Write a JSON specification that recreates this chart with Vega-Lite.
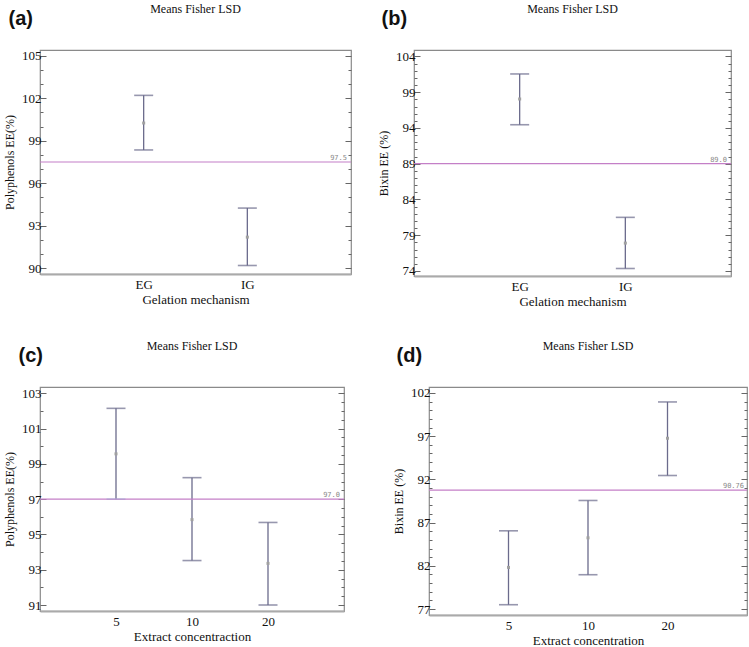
{
  "$schema": "https://vega.github.io/schema/vega-lite/v6.json",
  "background": "white",
  "padding": {"left": 2, "top": 2, "right": 0, "bottom": 0},
  "spacing": 30,
  "config": {
    "font": "Liberation Serif",
    "view": {"stroke": "#8a8a8a", "strokeWidth": 1.2},
    "axis": {"labelFont": "Liberation Serif", "titleFont": "Liberation Serif", "labelFontSize": 13, "titleFontSize": 13, "titleFontWeight": "normal", "labelColor": "#111", "titleColor": "#111", "grid": false, "domain": false, "tickColor": "#666", "minExtent": 0},
    "axisY": {"titleFontSize": 12, "minExtent": 0},
    "title": {"font": "Liberation Serif", "fontSize": 12, "fontWeight": "normal", "color": "#111", "anchor": "middle", "offset": -8}
  },
  "vconcat": [
    {
      "spacing": 23,
      "hconcat": [
        {
          "title": "Means Fisher LSD",
          "width": 311, "height": 224,
          "data": {"values": [
            {"group": "EG", "mean": 100.25, "lower": 98.35, "upper": 102.2},
            {"group": "IG", "mean": 92.2, "lower": 90.2, "upper": 94.25}
          ]},
          "layer": [
            {
              "mark": {"type": "rule", "color": "#6b6b8c", "strokeWidth": 1.3},
              "encoding": {
                "x": {"field": "group", "type": "ordinal", "scale": {"type": "point", "padding": 1}, "axis": {"orient": "bottom", "labelAngle": 0, "ticks": false, "domain": true, "domainColor": "#aaa", "domainWidth": 2, "labelPadding": 4, "titlePadding": 2, "title": "Gelation mechanism"}},
                "y": {"field": "lower", "type": "quantitative", "scale": {"domain": [89.6, 105.4], "nice": false, "zero": false}, "axis": {"orient": "left", "values": [90,91,92,93,94,95,96,97,98,99,100,101,102,103,104,105], "labelExpr": "datum.value % 3 === 0 ? datum.label : ''", "format": "d", "tickSize": {"condition": {"test": "datum.value % 3 === 0", "value": -6}, "value": -3}, "labelPadding": 5, "titlePadding": 5, "title": "Polyphenols EE(%)"}},
                "y2": {"field": "upper"}
              }
            },
            {
              "mark": {"type": "tick", "color": "#6b6b8c", "size": 19, "thickness": 1.6},
              "encoding": {
                "x": {"field": "group", "type": "ordinal", "axis": {"orient": "top", "labels": false, "ticks": false, "domain": false, "title": "(a)", "titleFont": "Liberation Sans", "titleFontSize": 20, "titleFontWeight": "bold", "titleAnchor": "start", "titleAlign": "left", "titleX": -32, "titleY": -26, "titleBaseline": "alphabetic"}},
                "y": {"field": "upper", "type": "quantitative", "axis": {"orient": "right", "values": [90,91,92,93,94,95,96,97,98,99,100,101,102,103,104,105], "labels": false, "title": null, "tickSize": {"condition": {"test": "datum.value % 3 === 0", "value": -6}, "value": -3}}}
              }
            },
            {
              "mark": {"type": "tick", "color": "#6b6b8c", "size": 19, "thickness": 1.6},
              "encoding": {
                "x": {"field": "group", "type": "ordinal", "axis": null},
                "y": {"field": "lower", "type": "quantitative", "axis": null}
              }
            },
            {
              "mark": {"type": "square", "color": "#a0a0a0", "size": 9, "opacity": 1},
              "encoding": {
                "x": {"field": "group", "type": "ordinal", "axis": null},
                "y": {"field": "mean", "type": "quantitative", "axis": null}
              }
            },
            {
              "data": {"values": [{"grand": 97.5, "label": "97.5"}]},
              "mark": {"type": "rule", "color": "#c47fc7", "strokeWidth": 1.2},
              "encoding": {"y": {"field": "grand", "type": "quantitative", "axis": null}}
            },
            {
              "data": {"values": [{"grand": 97.5, "label": "97.5"}]},
              "mark": {"type": "text", "x": "width", "align": "right", "dx": -4, "dy": -1, "baseline": "bottom", "font": "DejaVu Sans Mono", "fontSize": 7, "color": "#888"},
              "encoding": {"y": {"field": "grand", "type": "quantitative", "axis": null}, "text": {"field": "label"}}
            }
          ],
          "resolve": {"axis": {"x": "independent", "y": "independent"}}
        },
        {
          "title": "Means Fisher LSD",
          "width": 317, "height": 226,
          "data": {"values": [
            {"group": "EG", "mean": 98.05, "lower": 94.45, "upper": 101.55},
            {"group": "IG", "mean": 77.9, "lower": 74.35, "upper": 81.5}
          ]},
          "layer": [
            {
              "mark": {"type": "rule", "color": "#6b6b8c", "strokeWidth": 1.3},
              "encoding": {
                "x": {"field": "group", "type": "ordinal", "scale": {"type": "point", "padding": 1}, "axis": {"orient": "bottom", "labelAngle": 0, "ticks": false, "domain": true, "domainColor": "#aaa", "domainWidth": 2, "labelPadding": 4, "titlePadding": 2, "title": "Gelation mechanism"}},
                "y": {"field": "lower", "type": "quantitative", "scale": {"domain": [73.3, 104.9], "nice": false, "zero": false}, "axis": {"orient": "left", "values": [74,75,76,77,78,79,80,81,82,83,84,85,86,87,88,89,90,91,92,93,94,95,96,97,98,99,100,101,102,103,104], "labelExpr": "datum.value % 5 === 4 ? datum.label : ''", "format": "d", "tickSize": {"condition": {"test": "datum.value % 5 === 4", "value": -6}, "value": -3}, "labelPadding": 5, "titlePadding": 5, "title": "Bixin EE (%)"}},
                "y2": {"field": "upper"}
              }
            },
            {
              "mark": {"type": "tick", "color": "#6b6b8c", "size": 19, "thickness": 1.6},
              "encoding": {
                "x": {"field": "group", "type": "ordinal", "axis": {"orient": "top", "labels": false, "ticks": false, "domain": false, "title": "(b)", "titleFont": "Liberation Sans", "titleFontSize": 20, "titleFontWeight": "bold", "titleAnchor": "start", "titleAlign": "left", "titleX": -33, "titleY": -26, "titleBaseline": "alphabetic"}},
                "y": {"field": "upper", "type": "quantitative", "axis": {"orient": "right", "values": [74,75,76,77,78,79,80,81,82,83,84,85,86,87,88,89,90,91,92,93,94,95,96,97,98,99,100,101,102,103,104], "labels": false, "title": null, "tickSize": {"condition": {"test": "datum.value % 5 === 4", "value": -6}, "value": -3}}}
              }
            },
            {
              "mark": {"type": "tick", "color": "#6b6b8c", "size": 19, "thickness": 1.6},
              "encoding": {
                "x": {"field": "group", "type": "ordinal", "axis": null},
                "y": {"field": "lower", "type": "quantitative", "axis": null}
              }
            },
            {
              "mark": {"type": "square", "color": "#a0a0a0", "size": 9, "opacity": 1},
              "encoding": {
                "x": {"field": "group", "type": "ordinal", "axis": null},
                "y": {"field": "mean", "type": "quantitative", "axis": null}
              }
            },
            {
              "data": {"values": [{"grand": 89.0, "label": "89.0"}]},
              "mark": {"type": "rule", "color": "#c47fc7", "strokeWidth": 1.2},
              "encoding": {"y": {"field": "grand", "type": "quantitative", "axis": null}}
            },
            {
              "data": {"values": [{"grand": 89.0, "label": "89.0"}]},
              "mark": {"type": "text", "x": "width", "align": "right", "dx": -4, "dy": -1, "baseline": "bottom", "font": "DejaVu Sans Mono", "fontSize": 7, "color": "#888"},
              "encoding": {"y": {"field": "grand", "type": "quantitative", "axis": null}, "text": {"field": "label"}}
            }
          ],
          "resolve": {"axis": {"x": "independent", "y": "independent"}}
        }
      ]
    },
    {
      "spacing": 45,
      "hconcat": [
        {
          "title": "Means Fisher LSD",
          "width": 304, "height": 224,
          "data": {"values": [
            {"group": "5", "mean": 99.57, "lower": 97.0, "upper": 102.15},
            {"group": "10", "mean": 95.84, "lower": 93.52, "upper": 98.22},
            {"group": "20", "mean": 93.36, "lower": 91.0, "upper": 95.68}
          ]},
          "layer": [
            {
              "mark": {"type": "rule", "color": "#6b6b8c", "strokeWidth": 1.3},
              "encoding": {
                "x": {"field": "group", "type": "ordinal", "sort": null, "scale": {"type": "point", "padding": 1}, "axis": {"orient": "bottom", "labelAngle": 0, "ticks": false, "domain": true, "domainColor": "#aaa", "domainWidth": 2, "labelPadding": 4, "titlePadding": 2, "title": "Extract concentraction"}},
                "y": {"field": "lower", "type": "quantitative", "scale": {"domain": [90.66, 103.36], "nice": false, "zero": false}, "axis": {"orient": "left", "values": [91,91.5,92,92.5,93,93.5,94,94.5,95,95.5,96,96.5,97,97.5,98,98.5,99,99.5,100,100.5,101,101.5,102,102.5,103], "labelExpr": "datum.value % 2 === 1 ? datum.label : ''", "format": "d", "tickSize": {"condition": {"test": "datum.value % 2 === 1", "value": -6}, "value": -3}, "labelPadding": 5, "titlePadding": 5, "title": "Polyphenols EE(%)"}},
                "y2": {"field": "upper"}
              }
            },
            {
              "mark": {"type": "tick", "color": "#6b6b8c", "size": 19, "thickness": 1.6},
              "encoding": {
                "x": {"field": "group", "type": "ordinal", "sort": null, "axis": {"orient": "top", "labels": false, "ticks": false, "domain": false, "title": "(c)", "titleFont": "Liberation Sans", "titleFontSize": 20, "titleFontWeight": "bold", "titleAnchor": "start", "titleAlign": "left", "titleX": -22, "titleY": -26, "titleBaseline": "alphabetic"}},
                "y": {"field": "upper", "type": "quantitative", "axis": {"orient": "right", "values": [91,91.5,92,92.5,93,93.5,94,94.5,95,95.5,96,96.5,97,97.5,98,98.5,99,99.5,100,100.5,101,101.5,102,102.5,103], "labels": false, "title": null, "tickSize": {"condition": {"test": "datum.value % 2 === 1", "value": -6}, "value": -3}}}
              }
            },
            {
              "mark": {"type": "tick", "size": 19, "thickness": 1.6},
              "encoding": {
                "x": {"field": "group", "type": "ordinal", "sort": null, "axis": null},
                "y": {"field": "lower", "type": "quantitative", "axis": null},
                "color": {"condition": {"test": "datum.lower === 97", "value": "#7fe3e3"}, "value": "#6b6b8c"}
              }
            },
            {
              "mark": {"type": "square", "color": "#a0a0a0", "size": 9, "opacity": 1},
              "encoding": {
                "x": {"field": "group", "type": "ordinal", "sort": null, "axis": null},
                "y": {"field": "mean", "type": "quantitative", "axis": null}
              }
            },
            {
              "data": {"values": [{"grand": 97.0, "label": "97.0"}]},
              "mark": {"type": "rule", "color": "#c47fc7", "strokeWidth": 1.2},
              "encoding": {"y": {"field": "grand", "type": "quantitative", "axis": null}}
            },
            {
              "data": {"values": [{"grand": 97.0, "label": "97.0"}]},
              "mark": {"type": "text", "x": "width", "align": "right", "dx": -4, "dy": -1, "baseline": "bottom", "font": "DejaVu Sans Mono", "fontSize": 7, "color": "#888"},
              "encoding": {"y": {"field": "grand", "type": "quantitative", "axis": null}, "text": {"field": "label"}}
            }
          ],
          "resolve": {"axis": {"x": "independent", "y": "independent"}}
        },
        {
          "title": "Means Fisher LSD",
          "width": 318, "height": 228,
          "data": {"values": [
            {"group": "5", "mean": 81.82, "lower": 77.5, "upper": 86.05},
            {"group": "10", "mean": 85.24, "lower": 80.97, "upper": 89.56},
            {"group": "20", "mean": 96.76, "lower": 92.45, "upper": 100.96}
          ]},
          "layer": [
            {
              "mark": {"type": "rule", "color": "#6b6b8c", "strokeWidth": 1.3},
              "encoding": {
                "x": {"field": "group", "type": "ordinal", "sort": null, "scale": {"type": "point", "padding": 1}, "axis": {"orient": "bottom", "labelAngle": 0, "ticks": false, "domain": true, "domainColor": "#aaa", "domainWidth": 2, "labelPadding": 4, "titlePadding": 2, "title": "Extract concentration"}},
                "y": {"field": "lower", "type": "quantitative", "scale": {"domain": [76.31, 102.69], "nice": false, "zero": false}, "axis": {"orient": "left", "values": [77,78,79,80,81,82,83,84,85,86,87,88,89,90,91,92,93,94,95,96,97,98,99,100,101,102], "labelExpr": "datum.value % 5 === 2 ? datum.label : ''", "format": "d", "tickSize": {"condition": {"test": "datum.value % 5 === 2", "value": -6}, "value": -3}, "labelPadding": 5, "titlePadding": 5, "title": "Bixin EE (%)"}},
                "y2": {"field": "upper"}
              }
            },
            {
              "mark": {"type": "tick", "color": "#6b6b8c", "size": 19, "thickness": 1.6},
              "encoding": {
                "x": {"field": "group", "type": "ordinal", "sort": null, "axis": {"orient": "top", "labels": false, "ticks": false, "domain": false, "title": "(d)", "titleFont": "Liberation Sans", "titleFontSize": 20, "titleFontWeight": "bold", "titleAnchor": "start", "titleAlign": "left", "titleX": -33, "titleY": -26, "titleBaseline": "alphabetic"}},
                "y": {"field": "upper", "type": "quantitative", "axis": {"orient": "right", "values": [77,78,79,80,81,82,83,84,85,86,87,88,89,90,91,92,93,94,95,96,97,98,99,100,101,102], "labels": false, "title": null, "tickSize": {"condition": {"test": "datum.value % 5 === 2", "value": -6}, "value": -3}}}
              }
            },
            {
              "mark": {"type": "tick", "color": "#6b6b8c", "size": 19, "thickness": 1.6},
              "encoding": {
                "x": {"field": "group", "type": "ordinal", "sort": null, "axis": null},
                "y": {"field": "lower", "type": "quantitative", "axis": null}
              }
            },
            {
              "mark": {"type": "square", "color": "#a0a0a0", "size": 9, "opacity": 1},
              "encoding": {
                "x": {"field": "group", "type": "ordinal", "sort": null, "axis": null},
                "y": {"field": "mean", "type": "quantitative", "axis": null}
              }
            },
            {
              "data": {"values": [{"grand": 90.76, "label": "90.76"}]},
              "mark": {"type": "rule", "color": "#c47fc7", "strokeWidth": 1.2},
              "encoding": {"y": {"field": "grand", "type": "quantitative", "axis": null}}
            },
            {
              "data": {"values": [{"grand": 90.76, "label": "90.76"}]},
              "mark": {"type": "text", "x": "width", "align": "right", "dx": -3, "dy": -1, "baseline": "bottom", "font": "DejaVu Sans Mono", "fontSize": 7, "color": "#888"},
              "encoding": {"y": {"field": "grand", "type": "quantitative", "axis": null}, "text": {"field": "label"}}
            }
          ],
          "resolve": {"axis": {"x": "independent", "y": "independent"}}
        }
      ]
    }
  ]
}
